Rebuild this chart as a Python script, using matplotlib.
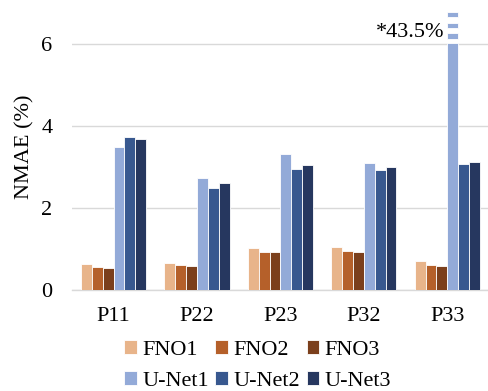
import matplotlib
matplotlib.use('Agg')
import matplotlib.pyplot as plt
import numpy as np

plt.rcParams['font.family'] = ['Liberation Serif', 'DejaVu Serif']

cases = ['P11', 'P22', 'P23', 'P32', 'P33']
models = ['FNO1', 'FNO2', 'FNO3', 'U-Net1', 'U-Net2', 'U-Net3']
colors = ['#E8B48A', '#B5602A', '#7B3F1C', '#93AAD8', '#38588F', '#26375F']

fno1 = [0.63, 0.66, 1.03, 1.05, 0.70]
fno2 = [0.57, 0.60, 0.93, 0.95, 0.61]
fno3 = [0.54, 0.58, 0.92, 0.93, 0.59]
unet1 = [3.48, 2.72, 3.31, 3.09, 43.5]
unet2 = [3.72, 2.50, 2.95, 2.92, 3.07]
unet3 = [3.68, 2.62, 3.04, 3.01, 3.12]
series = [fno1, fno2, fno3, unet1, unet2, unet3]

cap = 6.03  # bars above this get cut with a dashed break
width = 0.13

fig = plt.figure(figsize=(4.89, 3.91), dpi=100)
ax = fig.add_axes([0.147, 0.2583, 0.853, 0.734])

x = np.arange(len(cases))
handles = []
for i, (vals, name, c) in enumerate(zip(series, models, colors)):
    pos = x + (i - 2.5) * width
    vals = np.array(vals)
    h = ax.bar(pos, np.minimum(vals, cap), width, color=c, edgecolor='white',
               linewidth=0.6, label=name, zorder=3)
    handles.append(h)
    for p, v in zip(pos, vals):
        if v > cap:
            # broken bar: three dashes stacked above the cut
            for lo, hi in [(6.12, 6.27), (6.39, 6.51), (6.66, 6.78)]:
                ax.bar(p, hi - lo, width, bottom=lo, color=c, edgecolor='white',
                       linewidth=0.6, zorder=3, clip_on=False)
            ax.text(p - width * 0.75, 6.27, f'*{v:.1f}%', ha='right', va='center',
                    fontsize=16)

ax.set_xlim(-0.5, 4.5)
ax.set_ylim(0, 7)
ax.set_yticks([0, 2, 4, 6])
ax.set_xticks(x)
ax.set_xticklabels(cases)
ax.tick_params(length=0, labelsize=16)
ax.tick_params(axis='x', pad=12)
ax.tick_params(axis='y', pad=14)
ax.set_ylabel('NMAE (%)', fontsize=16, labelpad=5)
ax.grid(axis='y', color='#D9D9D9', linewidth=1, zorder=0)
for s in ['top', 'right', 'left']:
    ax.spines[s].set_visible(False)
ax.spines['bottom'].set_color('#D9D9D9')
ax.spines['bottom'].set_linewidth(1)

order = [0, 3, 1, 4, 2, 5]
fig.legend([handles[k] for k in order], [models[k] for k in order],
           ncol=3, loc='lower center', bbox_to_anchor=(0.527, -0.045),
           frameon=False, fontsize=16, handlelength=0.56, handleheight=0.56,
           handletextpad=0.25, columnspacing=0.3, labelspacing=0.5,
           borderpad=0.3)

fig.savefig('out.png', dpi=100)
